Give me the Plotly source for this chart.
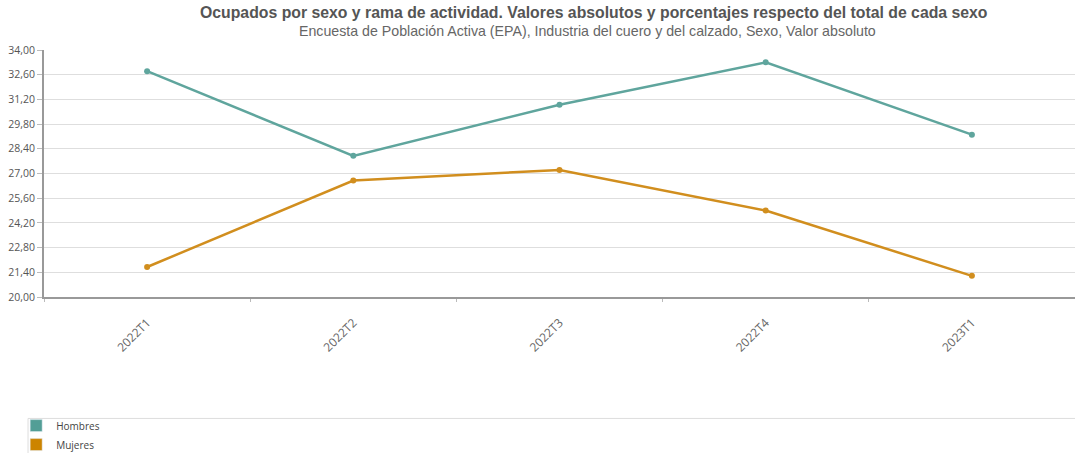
import plotly.graph_objects as go

categories = ["2022T1", "2022T2", "2022T3", "2022T4", "2023T1"]
hombres = [32.8, 28.0, 30.9, 33.3, 29.2]
mujeres = [21.7, 26.6, 27.2, 24.9, 21.2]
y_ticks = [20.0, 21.4, 22.8, 24.2, 25.6, 27.0, 28.4, 29.8, 31.2, 32.6, 34.0]

title = "Ocupados por sexo y rama de actividad. Valores absolutos y porcentajes respecto del total de cada sexo"
subtitle = "Encuesta de Población Activa (EPA), Industria del cuero y del calzado, Sexo, Valor absoluto"

c_h = "#5fa59d"
c_m = "#d18e1e"

fig = go.Figure()
fig.add_trace(go.Scatter(x=categories, y=hombres, mode="lines+markers", name="Hombres",
                         line=dict(color=c_h, width=2.5), marker=dict(size=6, color=c_h),
                         showlegend=False))
fig.add_trace(go.Scatter(x=categories, y=mujeres, mode="lines+markers", name="Mujeres",
                         line=dict(color=c_m, width=2.5), marker=dict(size=6, color=c_m),
                         showlegend=False))
# legend swatches
fig.add_trace(go.Bar(x=[None], y=[None], name="Hombres", marker=dict(color="#529e96")))
fig.add_trace(go.Bar(x=[None], y=[None], name="Mujeres", marker=dict(color="#cc8400")))

fig.update_layout(
    width=1075, height=453,
    margin=dict(l=44, r=0, t=50, b=156, autoexpand=False),
    paper_bgcolor="white", plot_bgcolor="white",
    separators=",.",
    font=dict(family="Open Sans, Verdana, sans-serif", size=11, color="#555"),
    annotations=[
        dict(text=f"<b>{title}</b>", xref="paper", yref="paper",
             x=(594 - 44) / 1031, y=1.0 + (50 - 13) / 246.7, xanchor="center", yanchor="middle",
             showarrow=False, font=dict(family="Liberation Sans, Arial, sans-serif", size=15.8, color="#555")),
        dict(text=subtitle, xref="paper", yref="paper",
             x=(587 - 44) / 1031, y=1.0 + (50 - 31) / 246.7, xanchor="center", yanchor="middle",
             showarrow=False, font=dict(family="Liberation Sans, Arial, sans-serif", size=14.2, color="#666")),
    ],
    xaxis=dict(
        type="category", categoryorder="array", categoryarray=categories,
        range=[-0.5, 4.5], automargin=False,
        tickson="boundaries", ticks="outside", ticklen=3, tickcolor="#bbb",
        tickangle=-45, ticklabelstandoff=12,
        tickfont=dict(size=12, color="#666"),
        showline=True, linecolor="#999", linewidth=2,
        showgrid=False, zeroline=False,
    ),
    yaxis=dict(
        range=[20, 34], tickvals=y_ticks, tickformat=".2f", automargin=False,
        ticks="outside", ticklen=5, tickcolor="#bbb",
        tickfont=dict(size=10.5, color="#555"),
        showline=True, linecolor="#999", linewidth=2,
        showgrid=True, gridcolor="#dedede", gridwidth=1, zeroline=False,
    ),
    legend=dict(
        x=-0.027, y=-0.462, xanchor="left", yanchor="top",
        orientation="v", bgcolor="rgba(0,0,0,0)",
        font=dict(size=10, color="#444"),
        tracegroupgap=0, itemwidth=30,
    ),
    shapes=[dict(type="rect", xref="paper", yref="paper",
                 x0=-0.0155, x1=1.03, y0=-0.64, y1=-0.4917,
                 line=dict(color="#ddd", width=1), fillcolor="rgba(0,0,0,0)", layer="below")],
)

fig.write_html("out.html", config={"displayModeBar": False},
               post_script="document.body.style.margin='0';document.body.style.overflow='hidden';")
